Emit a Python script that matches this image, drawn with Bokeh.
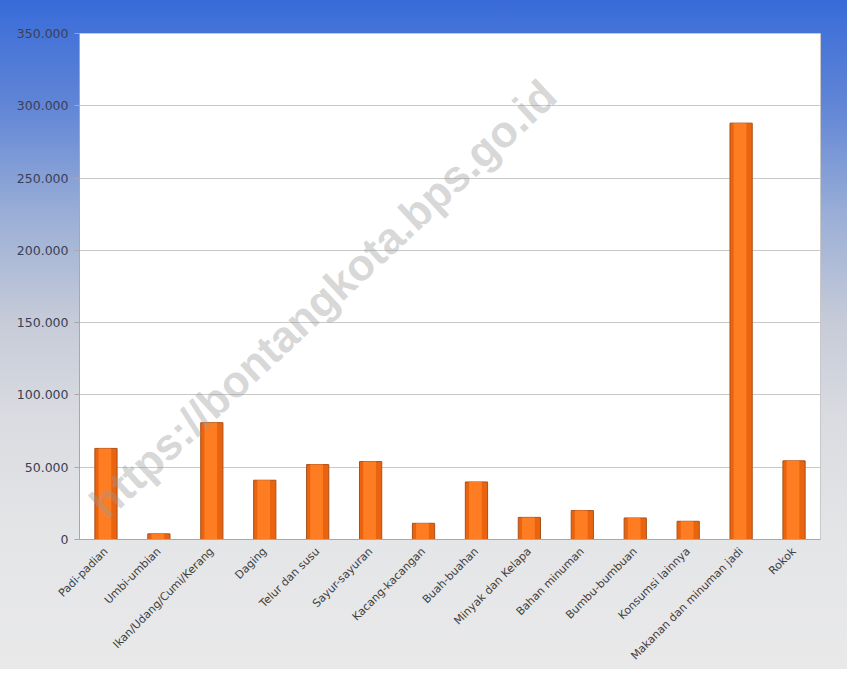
from math import radians
from bokeh.plotting import figure
from bokeh.models import FixedTicker, Label, ColumnDataSource
from bokeh.transform import dodge
from bokeh.embed import file_html
from bokeh.resources import INLINE

categories = ["Padi-padian", "Umbi-umbian", "Ikan/Udang/Cumi/Kerang", "Daging",
              "Telur dan susu", "Sayur-sayuran", "Kacang-kacangan", "Buah-buahan",
              "Minyak dan Kelapa", "Bahan minuman", "Bumbu-bumbuan",
              "Konsumsi lainnya", "Makanan dan minuman jadi", "Rokok"]
values = [63000, 3900, 80800, 41000, 51800, 53900, 11200, 39800,
          15300, 20000, 14900, 12600, 288000, 54400]
y_ticks = [0, 50000, 100000, 150000, 200000, 250000, 300000, 350000]
y_tick_labels = ["0", "50.000", "100.000", "150.000", "200.000", "250.000",
                 "300.000", "350.000"]
watermark = "https://bontangkota.bps.go.id"

src = ColumnDataSource(dict(cat=categories, val=values))

p = figure(x_range=categories, y_range=(0, 350000), width=847, height=669,
           output_backend="svg", toolbar_location=None,
           min_border_left=79, min_border_right=27, min_border_top=33,
           min_border_bottom=129)

p.border_fill_color = None
p.styles = {"background-image": "linear-gradient(to bottom, #386bd9 0%, #5f84d6 15%, #9aaed6 32%, #c6cbd8 48%, #d9dbe0 62%, #e4e5e7 80%, #e9e9ea 100%)"}
p.background_fill_color = "white"
p.outline_line_color = "#c8c8c8"

p.vbar(x="cat", top="val", width=0.42, source=src,
       fill_color="#ea6410", line_color="#a85019", line_width=1)
p.vbar(x=dodge("cat", -0.02, range=p.x_range), top="val", width=0.24, source=src,
       fill_color="#ff7d22", line_color=None)

p.yaxis.ticker = FixedTicker(ticks=y_ticks)
p.yaxis.major_label_overrides = {t: l for t, l in zip(y_ticks, y_tick_labels)}
p.yaxis.major_label_text_font = "DejaVu Sans"
p.yaxis.major_label_text_font_size = "12.5px"
p.yaxis.major_label_text_color = "#3a3f55"
p.yaxis.axis_line_color = "#a8a8a8"
p.yaxis.major_tick_line_color = "#a8a8a8"
p.yaxis.major_tick_in = 0
p.yaxis.major_tick_out = 5
p.yaxis.minor_tick_line_color = None
p.yaxis.major_label_standoff = 6

p.xaxis.major_label_orientation = radians(45)
p.xaxis.major_label_text_font = "DejaVu Sans"
p.xaxis.major_label_text_font_size = "11px"
p.xaxis.major_label_text_color = "#404040"
p.xaxis.axis_line_color = "#a8a8a8"
p.xaxis.major_tick_line_color = None
p.xaxis.major_label_standoff = 4

p.xgrid.grid_line_color = None
p.ygrid.grid_line_color = "#c8c8c8"
p.ygrid.grid_line_width = 1

wm = Label(x=34, y=12, x_units="screen", y_units="screen", text=watermark,
           angle=radians(43), text_font="Liberation Sans",
           text_font_style="bold", text_font_size="44px",
           text_color="#999999", text_alpha=0.4)
p.add_layout(wm)

open("out.html", "w").write(file_html(p, INLINE))
